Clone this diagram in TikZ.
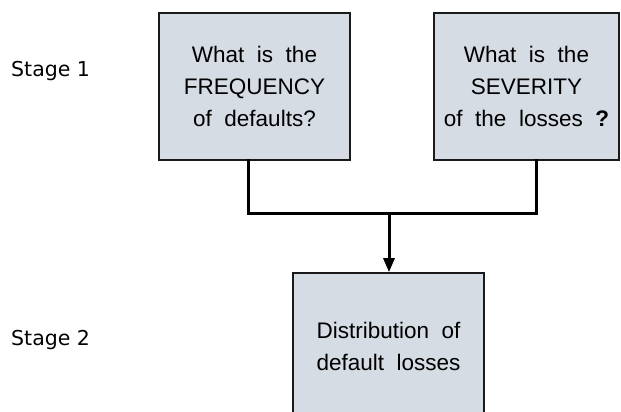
\documentclass[tikz,border=0pt]{standalone}
\usepackage{fontspec}
\setmainfont{Liberation Sans}
\newfontfamily\boxfont[WordSpace=2.0]{Liberation Sans}
\newfontfamily\stagefont{DejaVu Sans}
\usetikzlibrary{arrows.meta}
\definecolor{boxfill}{HTML}{D5DCE4}
\definecolor{boxline}{HTML}{1A1A1A}
\tikzset{
  x=1pt, y=-1pt,
  qbox/.style={draw=boxline, line width=1.7pt, fill=boxfill, align=center,
    inner sep=0pt, font=\boxfont\fontsize{22.5}{32}\selectfont},
  conn/.style={draw=black, line width=3pt},
  stagelabel/.style={anchor=base west, inner sep=0pt, font=\stagefont\fontsize{20.5}{24}\selectfont}
}
\begin{document}
\begin{tikzpicture}
\useasboundingbox (0,0) rectangle (621,412);
\clip (0,0) rectangle (621,412);
\node[qbox, minimum width=191pt, minimum height=147pt] (b1) at (254.5,86.5)
  {What is the\\FREQUENCY\\of defaults?};
\node[qbox, minimum width=185pt, minimum height=147pt] (b2) at (526.5,86.5)
  {What is the\\SEVERITY\\of the losses \textbf{?}};
\node[qbox, minimum width=191pt, minimum height=147pt] (b3) at (388.5,346.5)
  {Distribution of\\default losses};
\node[stagelabel] (s1) at (11,77) {Stage 1};
\node[stagelabel] (s2) at (11,345) {Stage 2};
\coordinate (jl) at (248,213);
\coordinate (jr) at (536,213);
\coordinate (jm) at (389,213);
\draw[conn, line cap=rect] (b1.south -| jl) -- (jl) -- (jr) -- (b2.south -| jr);
\draw[conn, -{Triangle[length=14pt,width=11pt]}] (jm) -- (b3.north -| jm);
\end{tikzpicture}
\end{document}
